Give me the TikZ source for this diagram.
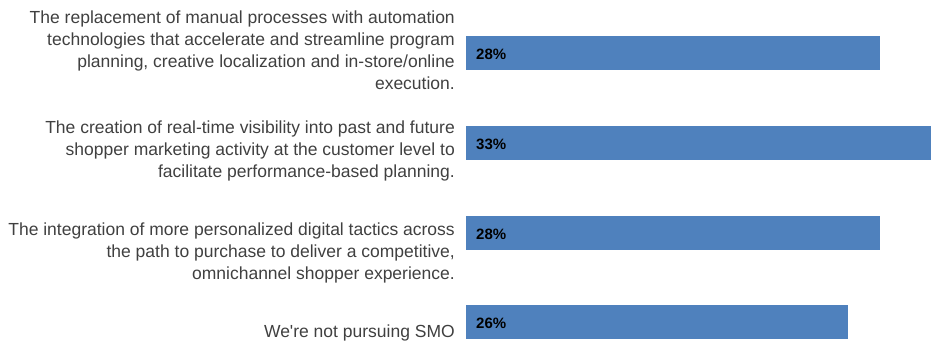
\documentclass[tikz,border=0pt]{standalone}
\usepackage{fontspec}
\setmainfont{Liberation Sans}
\definecolor{barblue}{HTML}{4F81BD}
\definecolor{txtgray}{HTML}{404040}
\begin{document}
\begin{tikzpicture}[x=1pt,y=-1pt,
  bar/.style={fill=barblue,draw=none},
  cat/.style={anchor=base east,inner sep=0pt,align=right,text=txtgray,font=\fontsize{17.5}{22}\selectfont},
  val/.style={anchor=base west,inner sep=0pt,text=black,font=\fontsize{15}{18}\selectfont\bfseries}]
\useasboundingbox (0,0) rectangle (931,341);
% bars
\path[bar] (466,36) rectangle (880,70) coordinate (b1e);
\path[bar] (466,126) rectangle (931,160) coordinate (b2e);
\path[bar] (466,216) rectangle (880,250) coordinate (b3e);
\path[bar] (466,305) rectangle (848,339) coordinate (b4e);
% value labels
\node[val] (v1) at (476,59) {28\%};
\node[val] (v2) at (476,149) {33\%};
\node[val] (v3) at (476,239) {28\%};
\node[val] (v4) at (476,328) {26\%};
% category labels (anchored at the baseline of the last line)
\node[cat] (c1) at (455,89) {The replacement of manual processes with automation\\technologies that accelerate and streamline program\\planning, creative localization and in-store/online\\execution.};
\node[cat] (c2) at (455,177) {The creation of real-time visibility into past and future\\shopper marketing activity at the customer level to\\facilitate performance-based planning.};
\node[cat] (c3) at (455,279) {The integration of more personalized digital tactics across\\the path to purchase to deliver a competitive,\\omnichannel shopper experience.};
\node[cat] (c4) at (455,337) {We\textquotesingle re not pursuing SMO};
\end{tikzpicture}
\end{document}
